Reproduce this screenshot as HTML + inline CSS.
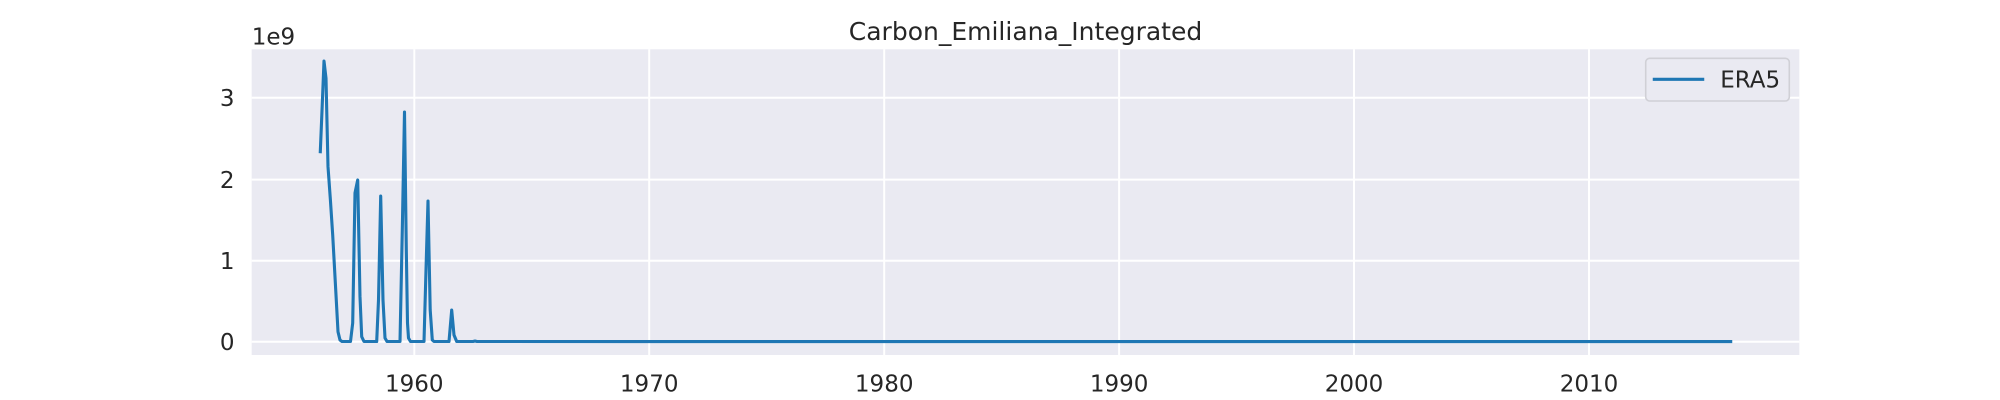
<!DOCTYPE html>
<html>
<head>
<meta charset="utf-8">
<style>
html,body{margin:0;padding:0;background:#ffffff;}
svg{display:block;}
text{font-family:"DejaVu Sans","Liberation Sans",sans-serif;fill:#262626;}
</style>
</head>
<body>
<svg width="2000" height="400" viewBox="0 0 2000 400" xmlns="http://www.w3.org/2000/svg">
  <rect x="0" y="0" width="2000" height="400" fill="#ffffff"/>
  <!-- axes background -->
  <rect x="251.7" y="49.3" width="1547.6" height="305.7" fill="#EAEAF2"/>
  <!-- horizontal grid -->
  <g stroke="#ffffff" stroke-width="2" fill="none">
    <line x1="251.7" y1="341.7" x2="1799.3" y2="341.7"/>
    <line x1="251.7" y1="260.7" x2="1799.3" y2="260.7"/>
    <line x1="251.7" y1="179.6" x2="1799.3" y2="179.6"/>
    <line x1="251.7" y1="97.7" x2="1799.3" y2="97.7"/>
    <!-- vertical grid -->
    <line x1="414.3" y1="49.3" x2="414.3" y2="355"/>
    <line x1="649.2" y1="49.3" x2="649.2" y2="355"/>
    <line x1="884.2" y1="49.3" x2="884.2" y2="355"/>
    <line x1="1119.1" y1="49.3" x2="1119.1" y2="355"/>
    <line x1="1354.0" y1="49.3" x2="1354.0" y2="355"/>
    <line x1="1589.0" y1="49.3" x2="1589.0" y2="355"/>
  </g>
  <!-- data line -->
  <polyline fill="none" stroke="#1f77b4" stroke-width="3.1" stroke-linejoin="round" stroke-linecap="square"
    points="320.3,151.7 322.2,106 324.0,61 326.0,78.3 328.0,166.7 330.4,200 332.7,235 336.0,295 338.0,331.7 340.0,340 342,341.5 350.5,341.5 352.7,323 355,193 357.7,180 360,296.7 361.7,336.7 364,341.5 376.7,341.5 378.5,300 380.7,196 383,300 385,338 387,341.5 400,341.5 402.3,230 404.5,112 406.3,250 407.5,323 408.5,338 410.5,341.5 424,341.5 426,270 428,201 430.2,310 432.3,340 434,341.5 449,341.5 451.7,310 454,335 456.7,341.5 473,341.5 475,341 477,341.5 1730.7,341.6"/>
  <!-- y tick labels -->
  <g font-size="23" text-anchor="end">
    <text x="234.5" y="350.1">0</text>
    <text x="234.5" y="269.1">1</text>
    <text x="234.5" y="188.0">2</text>
    <text x="234.5" y="106.1">3</text>
  </g>
  <text x="251.7" y="44.3" font-size="23">1e9</text>
  <!-- x tick labels -->
  <g font-size="23" text-anchor="middle">
    <text x="414.3" y="391.7">1960</text>
    <text x="649.2" y="391.7">1970</text>
    <text x="884.2" y="391.7">1980</text>
    <text x="1119.1" y="391.7">1990</text>
    <text x="1354.0" y="391.7">2000</text>
    <text x="1589.0" y="391.7">2010</text>
  </g>
  <!-- title -->
  <text x="1025.5" y="40" font-size="25" text-anchor="middle">Carbon_Emiliana_Integrated</text>
  <!-- legend -->
  <rect x="1645.7" y="58.3" width="143.6" height="42.7" rx="4" ry="4" fill="#EAEAF2" stroke="#d0d0d6" stroke-width="1.6"/>
  <line x1="1654.3" y1="79.3" x2="1702.7" y2="79.3" stroke="#1f77b4" stroke-width="3.1" stroke-linecap="square"/>
  <text x="1720.2" y="87.3" font-size="23">ERA5</text>
</svg>
</body>
</html>
